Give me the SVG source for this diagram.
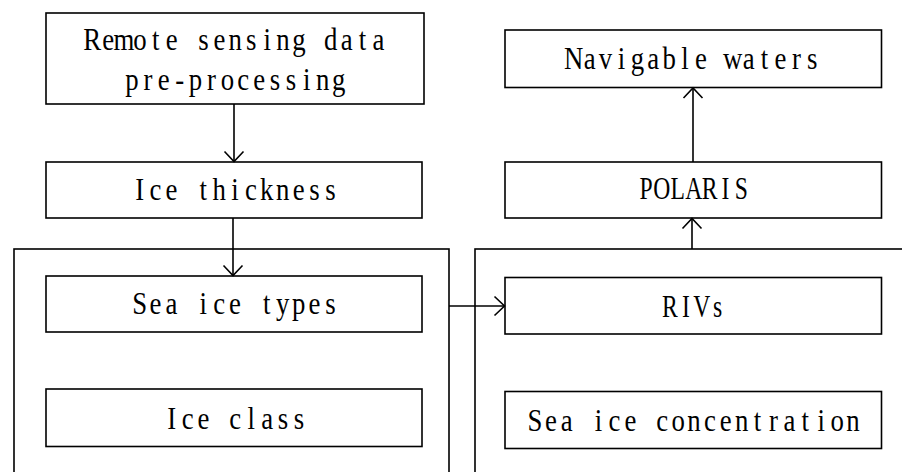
<svg xmlns="http://www.w3.org/2000/svg" width="902" height="472" viewBox="0 0 902 472">
  <defs>
    <marker id="arrow" markerUnits="userSpaceOnUse" markerWidth="24" markerHeight="24" viewBox="-12 -12 24 24" refX="0" refY="0" orient="auto">
      <path d="M -10 -9.5 L 0 0 L -10 9.5" fill="none" stroke="#000" stroke-width="1.6"/>
    </marker>
    <style>
      .box { fill: #fff; stroke: #000; stroke-width: 1.6; }
      .frame { fill: none; stroke: #000; stroke-width: 1.6; }
      /* monospaced serif look: each glyph centred in its own 15.9px cell, slightly condensed */
      .label { font-family: "Liberation Serif", "Times New Roman", serif; font-size: 31.5px; fill: #000; text-anchor: middle; }
      .conn { fill: none; stroke: #000; stroke-width: 1.6; marker-end: url(#arrow); }
    </style>
  </defs>
  <rect width="902" height="472" fill="#fff"/>

  <!-- outer group frames, open at the bottom / right edge of the canvas -->
  <g id="frame-left">
    <rect class="frame" x="14" y="249" width="435" height="240"/>
  </g>
  <g id="frame-right">
    <rect class="frame" x="475" y="249" width="440" height="240"/>
  </g>

  <g id="preprocessing">
    <rect class="box" x="46" y="13" width="378" height="91"/>
    <text class="label" transform="scale(0.85 1)" y="50" x="108.47 127.18 145.88 164.59 183.29 202.00 220.71 239.41 258.12 276.82 295.53 314.24 332.94 351.65 370.35 389.06 407.76 426.47 445.18">Remote sensing data</text>
    <text class="label" transform="scale(0.85 1)" y="90.5" x="155.24 173.94 192.65 211.35 230.06 248.76 267.47 286.18 304.88 323.59 342.29 361.00 379.71 398.41">pre-processing</text>
  </g>
  <g id="ice-thickness">
    <rect class="box" x="46" y="162" width="376" height="56"/>
    <text class="label" transform="scale(0.85 1)" y="200" x="164.24 182.94 201.65 220.35 239.06 257.76 276.47 295.18 313.88 332.59 351.29 370.00 388.71">Ice thickness</text>
  </g>
  <g id="sea-ice-types">
    <rect class="box" x="46" y="276" width="376" height="56"/>
    <text class="label" transform="scale(0.85 1)" y="314" x="164.24 182.94 201.65 220.35 239.06 257.76 276.47 295.18 313.88 332.59 351.29 370.00 388.71">Sea ice types</text>
  </g>
  <g id="ice-class">
    <rect class="box" x="46" y="389" width="376" height="57.5"/>
    <text class="label" transform="scale(0.85 1)" y="429" x="202.00 220.71 239.41 258.12 276.82 295.53 314.24 332.94 351.65">Ice class</text>
  </g>
  <g id="navigable-waters">
    <rect class="box" x="505" y="30" width="376.5" height="57.5"/>
    <text class="label" transform="scale(0.85 1)" y="69" x="675.00 693.71 712.41 731.12 749.82 768.53 787.24 805.94 824.65 843.35 862.06 880.76 899.47 918.18 936.88 955.59">Navigable waters</text>
  </g>
  <g id="polaris">
    <rect class="box" x="505" y="162" width="376.5" height="56"/>
    <text class="label" transform="scale(0.75 1)" y="199.5" x="861.33 882.53 903.73 924.93 946.13 967.33 988.53">POLARIS</text>
  </g>
  <g id="rivs">
    <rect class="box" x="505" y="277.5" width="376.5" height="56.5"/>
    <text class="label" transform="scale(0.75 1)" y="317" x="893.27 914.47 935.67 956.87">RIVs</text>
  </g>
  <g id="sea-ice-concentration">
    <rect class="box" x="505" y="391.5" width="376.5" height="57"/>
    <text class="label" transform="scale(0.85 1)" y="431" x="629.41 648.12 666.82 685.53 704.24 722.94 741.65 760.35 779.06 797.76 816.47 835.18 853.88 872.59 891.29 910.00 928.71 947.41 966.12 984.82 1003.53">Sea ice concentration</text>
  </g>

  <g id="connectors">
    <line class="conn" x1="234" y1="104" x2="234" y2="161.5"/>
    <line class="conn" x1="233" y1="218" x2="233" y2="275.5"/>
    <line class="conn" x1="449" y1="306" x2="504.5" y2="306"/>
    <line class="conn" x1="692" y1="249" x2="692" y2="218.5"/>
    <line class="conn" x1="693" y1="162" x2="693" y2="88"/>
  </g>
</svg>
